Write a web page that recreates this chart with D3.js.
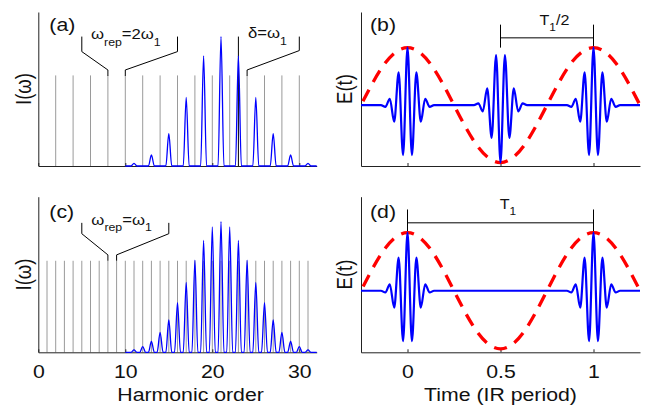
<!DOCTYPE html>
<html><head><meta charset="utf-8">
<script src="https://cdn.jsdelivr.net/npm/d3@7"></script>
<style>
body{margin:0;background:#fff}
svg{display:block;background:#fff}
text{font-family:"Liberation Sans",Arial,Helvetica,sans-serif;fill:#111}
</style>
</head><body>
<svg id="chart" width="645" height="410"></svg>
<script>
// ---------- data ----------
const harmonicTicks = [0, 10, 20, 30];
const timeTicks = [0, 0.5, 1];
const timeTickLabels = ["0", "0.5", "1"];
const combOrdersA = [2,4,6,8,10,12,14,16,18,20,22,24,26,28,30];
const combOrdersC = [1,2,3,4,5,6,7,8,9,10,11,12,13,14,15,16,17,18,19,20,21,22,23,24,25,26,27,28,29,30,31];
const combHeight = 0.70;
const peakOrdersA = [11,13,15,17,19,21,23,25,27,29,31];
const peakHeightsA = [0.02,0.085,0.25,0.53,0.85,1.0,0.85,0.53,0.25,0.085,0.02];
const peakOrdersC = [11,12,13,14,15,16,17,18,19,20,21,22,23,24,25,26,27,28,29,30,31];
const peakHeightsC = [0.018,0.044,0.083,0.152,0.247,0.379,0.534,0.704,0.856,0.959,1.0,0.959,0.856,0.704,0.534,0.379,0.247,0.152,0.083,0.044,0.018];
const irTimes = [-0.25,-0.125,0,0.125,0.25,0.375,0.5,0.625,0.75,0.875,1,1.125,1.25];
const irField = [0,0.71,1,0.71,0,-0.71,-1,-0.71,0,0.71,1,0.71,0];
const lobeAmps = [1,0.87,0.57,0.29,0.11,0.03,0];
const halfCycle = 1/42;
const pulseTimesB = [0,0.5,1], pulseSignsB = [1,-1,1];
const pulseTimesD = [0,1], pulseSignsD = [1,1];
// bracket annotations [x, y] in data units
const bracketA1 = [[5,1.0],[5,0.884],[8,0.742],[8,0.696]];
const bracketA2 = [[10,0.696],[10,0.742],[16,0.884],[16,1.0]];
const bracketDelta1 = [[23,1.0],[23,0]];
const bracketDelta2 = [[24,0.696],[24,0.742],[30,0.892],[30,1.0]];
const bracketC1 = [[5,0.99],[5,0.907],[8,0.745],[8,0.70]];
const bracketC2 = [[9,0.70],[9,0.745],[15,0.907],[15,0.99]];
const bracketB = [[[0.5,1.40],[0.5,1.0]],[[0.5,1.17],[1,1.17]],[[1,1.40],[1,1.0]]];
const bracketD = [[[0,1.40],[0,1.0]],[[0,1.17],[1,1.17]],[[1,1.40],[1,1.0]]];

// ---------- layout ----------
const svg = d3.select("#chart");
const SX = 1.15; // horizontal stretch of the text in the reference
const panels = {
  a: {x:[38.3,316.7], y:[166,12]},
  b: {x:[361,640], y:[166,12]},
  c: {x:[38.3,316.7], y:[352.3,196.7]},
  d: {x:[361,640], y:[352.3,196.7]}
};

function stext(parent, x, y, parts, size, anchor, rot) {
  const t = parent.append("text")
    .attr("transform", `translate(${x},${y}) scale(${SX},1)` + (rot ? " rotate(-90)" : ""))
    .attr("font-size", size)
    .attr("text-anchor", anchor || "start");
  let sub = false;
  const drop = size * 0.42;
  parts.forEach(p => {
    const isSub = p[1];
    const ts = t.append("tspan").text(p[0]).attr("font-size", isSub ? size*0.74 : size);
    if (isSub && !sub) ts.attr("dy", drop);
    if (!isSub && sub) ts.attr("dy", -drop);
    sub = isSub;
  });
  return t;
}

const lineXY = (xs, ys) => d3.line().x(d => xs(d[0])).y(d => ys(d[1]));

function specPanel(key, combOrders, orders, heights, brackets) {
  const P = panels[key];
  const x = d3.scaleLinear().domain([0,32]).range(P.x);
  const y = d3.scaleLinear().domain([0,1.19]).range(P.y);
  const g = svg.append("g");
  g.selectAll("line.comb").data(combOrders).join("line")
    .attr("x1", d => x(d)).attr("x2", d => x(d))
    .attr("y1", y(0)).attr("y2", y(combHeight))
    .attr("stroke", "#9a9a9a").attr("stroke-width", 1);
  brackets.forEach(b => {
    g.append("path").attr("d", lineXY(x,y)(b))
      .attr("fill","none").attr("stroke","#000").attr("stroke-width",1);
  });
  g.append("g").attr("transform", `translate(0,${P.y[0]})`)
    .call(d3.axisBottom(x).tickValues(harmonicTicks).tickSizeInner(-3).tickSizeOuter(0).tickFormat(key==="c"?d3.format("d"):""))
    .call(a => a.select(".domain").attr("stroke","#222"))
    .call(a => a.selectAll(".tick line").attr("stroke","#222"))
    .call(a => a.selectAll(".tick text").attr("y",26).attr("dy",0).attr("font-size",18.5)
        .attr("transform",`scale(${SX},1)`).attr("font-family",null).attr("fill","#111"));
  g.append("g").attr("transform", `translate(${P.x[0]},0)`)
    .call(d3.axisLeft(y).tickValues([]).tickSizeOuter(0))
    .call(a => a.select(".domain").attr("stroke","#222"));
  const pts = [[10,0]];
  const w = 0.34;
  orders.forEach((o,i) => { pts.push([o-w,0],[o,heights[i]],[o+w,0]); });
  pts.push([32,0]);
  g.append("path").attr("d", lineXY(x,y).curve(d3.curveMonotoneX)(pts))
    .attr("fill","none").attr("stroke","#0000ff").attr("stroke-width",1.3);
  stext(g, P.x[0]+11, P.y[1]+(key==="a"?19.3:21.7), [["("+key+")",false]], 18.5);
  stext(g, 30.5, (P.y[0]+P.y[1])/2, [["I(ω)",false]], 18.5, "middle", true);
  return {g, x, y};
}

function timePanel(key, times, signs, brackets) {
  const P = panels[key];
  const x = d3.scaleLinear().domain([-0.25,1.25]).range(P.x);
  const y = d3.scaleLinear().domain([-1.06,1.62]).range(P.y);
  const g = svg.append("g");
  brackets.forEach(b => {
    g.append("path").attr("d", lineXY(x,y)(b))
      .attr("fill","none").attr("stroke","#000").attr("stroke-width",1);
  });
  g.append("g").attr("transform", `translate(0,${P.y[0]})`)
    .call(d3.axisBottom(x).tickValues(timeTicks).tickSizeInner(-3).tickSizeOuter(0)
      .tickFormat((d,i) => key==="d" ? timeTickLabels[i] : ""))
    .call(a => a.select(".domain").attr("stroke","#222"))
    .call(a => a.selectAll(".tick line").attr("stroke","#222"))
    .call(a => a.selectAll(".tick text").attr("y",26).attr("dy",0).attr("font-size",18.5)
        .attr("transform",`scale(${SX},1)`).attr("font-family",null).attr("fill","#111"));
  g.append("g").attr("transform", `translate(${P.x[0]},0)`)
    .call(d3.axisLeft(y).tickValues([]).tickSizeOuter(0))
    .call(a => a.select(".domain").attr("stroke","#222"));
  // IR field (red dashed)
  const ir = irTimes.map((t,i) => [t, irField[i]]);
  const red = g.append("path").attr("d", lineXY(x,y).curve(d3.curveNatural)(ir))
    .attr("fill","none").attr("stroke","#ff0000").attr("stroke-width",3.3);
  // center a dash on the crest at t = 0
  const node = red.node();
  const total = node.getTotalLength();
  let lo = 0, hi = total;
  for (let k=0;k<40;k++){ const m=(lo+hi)/2; if (node.getPointAtLength(m).x < x(0)) lo=m; else hi=m; }
  const dash = 13, gap = 9, period = dash + gap;
  const off = period - (((lo - dash/2) % period) + period) % period;
  red.attr("stroke-dasharray", `${dash},${gap}`).attr("stroke-dashoffset", off);
  // attosecond pulses (blue)
  const pts = [[-0.25,0]];
  times.forEach((c,i) => {
    for (let n=-6;n<=6;n++) {
      const v = signs[i]*lobeAmps[Math.abs(n)]*(Math.abs(n)%2===0?1:-1);
      pts.push([c+n*halfCycle, v]);
    }
  });
  pts.push([1.25,0]);
  g.append("path").attr("d", lineXY(x,y).curve(d3.curveMonotoneX)(pts))
    .attr("fill","none").attr("stroke","#0000ff").attr("stroke-width",2.2);
  stext(g, P.x[0]+9, P.y[1]+(key==="b"?19.3:21.7), [["("+key+")",false]], 18.5);
  stext(g, 352, (P.y[0]+P.y[1])/2, [["E(t)",false]], 18.5, "middle", true);
  return {g, x, y};
}

const A = specPanel("a", combOrdersA, peakOrdersA, peakHeightsA, [bracketA1,bracketA2,bracketDelta1,bracketDelta2]);
stext(A.g, A.x(6.06), A.y(0.978), [["ω",false],["rep",true],["=2ω",false],["1",true]], 14.5);
stext(A.g, A.x(24.1), A.y(0.986), [["δ=ω",false],["1",true]], 14.5);

const C = specPanel("c", combOrdersC, peakOrdersC, peakHeightsC, [bracketC1,bracketC2]);
stext(C.g, C.x(6.1), C.y(0.977), [["ω",false],["rep",true],["=ω",false],["1",true]], 14.5);
stext(C.g, C.x(17.5), C.y(0) + 49, [["Harmonic order",false]], 18.5, "middle");

const B = timePanel("b", pulseTimesB, pulseSignsB, bracketB);
stext(B.g, B.x(0.79), B.y(1.40), [["T",false],["1",true],["/2",false]], 14, "middle");

const D = timePanel("d", pulseTimesD, pulseSignsD, bracketD);
stext(D.g, D.x(0.54), D.y(1.40), [["T",false],["1",true]], 14, "middle");
stext(D.g, D.x(0.5), D.y(-1.06) + 49, [["Time (IR period)",false]], 18.5, "middle");
</script>
</body></html>
